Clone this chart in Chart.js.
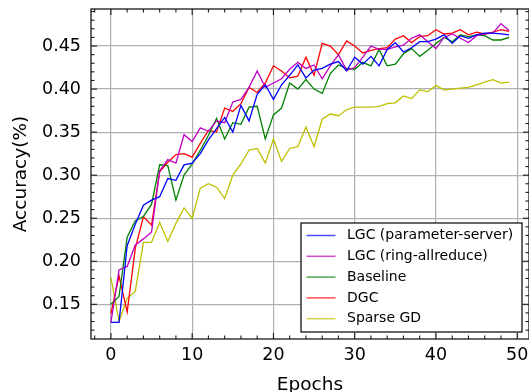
<!DOCTYPE html>
<html>
<head>
<meta charset="utf-8">
<script src="https://cdn.jsdelivr.net/npm/chart.js@4.4.1/dist/chart.umd.min.js"></script>
<style>
  html, body { margin: 0; padding: 0; background: #ffffff; }
  #c { display: block; }
</style>
</head>
<body>
<canvas id="c" width="529" height="392"></canvas>
<script>
// Test accuracy per training epoch for each gradient-compression scheme.
const epochs = [0, 1, 2, 3, 4, 5, 6, 7, 8, 9, 10, 11, 12, 13, 14, 15, 16, 17, 18, 19,
  20, 21, 22, 23, 24, 25, 26, 27, 28, 29, 30, 31, 32, 33, 34, 35, 36, 37, 38, 39,
  40, 41, 42, 43, 44, 45, 46, 47, 48, 49];

const lgcParameterServer = [0.129, 0.129, 0.218, 0.243, 0.265, 0.271, 0.275, 0.296, 0.294, 0.312,
  0.314, 0.325, 0.341, 0.354, 0.367, 0.350, 0.381, 0.363, 0.394, 0.405,
  0.388, 0.405, 0.416, 0.428, 0.413, 0.422, 0.424, 0.429, 0.432, 0.421,
  0.437, 0.429, 0.438, 0.427, 0.446, 0.454, 0.443, 0.448, 0.455, 0.455,
  0.458, 0.463, 0.453, 0.462, 0.459, 0.463, 0.465, 0.465, 0.464, 0.463];

const lgcRingAllreduce = [0.129, 0.190, 0.194, 0.219, 0.226, 0.234, 0.305, 0.318, 0.314, 0.347,
  0.339, 0.355, 0.351, 0.363, 0.361, 0.385, 0.388, 0.402, 0.421, 0.402,
  0.407, 0.412, 0.423, 0.431, 0.424, 0.428, 0.412, 0.427, 0.440, 0.422,
  0.425, 0.437, 0.450, 0.446, 0.446, 0.449, 0.451, 0.459, 0.463, 0.455,
  0.447, 0.460, 0.464, 0.459, 0.454, 0.462, 0.464, 0.465, 0.476, 0.468];

const baseline = [0.150, 0.159, 0.228, 0.247, 0.252, 0.266, 0.312, 0.311, 0.271, 0.300,
  0.313, 0.329, 0.346, 0.366, 0.342, 0.361, 0.359, 0.379, 0.380, 0.342,
  0.370, 0.378, 0.407, 0.400, 0.411, 0.400, 0.395, 0.418, 0.428, 0.424,
  0.423, 0.431, 0.427, 0.446, 0.427, 0.429, 0.441, 0.447, 0.438, 0.445,
  0.453, 0.460, 0.455, 0.463, 0.461, 0.463, 0.462, 0.457, 0.457, 0.460];

const dgc = [0.139, 0.183, 0.141, 0.215, 0.252, 0.242, 0.304, 0.315, 0.324, 0.325,
  0.321, 0.337, 0.352, 0.350, 0.378, 0.374, 0.383, 0.402, 0.396, 0.407,
  0.427, 0.421, 0.413, 0.415, 0.437, 0.416, 0.453, 0.450, 0.440, 0.456,
  0.450, 0.442, 0.445, 0.447, 0.448, 0.458, 0.462, 0.454, 0.461, 0.462,
  0.469, 0.464, 0.465, 0.469, 0.463, 0.466, 0.464, 0.466, 0.469, 0.467];

const sparseGD = [0.181, 0.130, 0.157, 0.165, 0.222, 0.222, 0.245, 0.223, 0.244, 0.262,
  0.250, 0.285, 0.290, 0.286, 0.273, 0.300, 0.313, 0.329, 0.331, 0.314,
  0.342, 0.316, 0.331, 0.333, 0.356, 0.333, 0.365, 0.371, 0.369, 0.376,
  0.379, 0.379, 0.379, 0.380, 0.383, 0.384, 0.392, 0.389, 0.399, 0.397,
  0.404, 0.399, 0.400, 0.401, 0.402, 0.405, 0.408, 0.411, 0.407, 0.408];

const seriesNames = ['LGC (parameter-server)', 'LGC (ring-allreduce)', 'Baseline', 'DGC', 'Sparse GD'];
const seriesValues = [lgcParameterServer, lgcRingAllreduce, baseline, dgc, sparseGD];
const seriesColors = ['#0000ff', '#bf00bf', '#008000', '#ff0000', '#bfbf00'];

const xTickValues = [0, 10, 20, 30, 40, 50];
const yTickValues = [0.15, 0.20, 0.25, 0.30, 0.35, 0.40, 0.45];

const FONT = 'DejaVu Sans';

// Frame, inward major/minor ticks on all four sides, and the boxed legend.
const frameAndLegend = {
  id: 'frameAndLegend',
  afterDatasetsDraw(chart) {
    const { ctx, chartArea: a, scales: { x, y } } = chart;
    ctx.save();
    ctx.strokeStyle = '#1a1a1a';
    ctx.lineWidth = 1.1;
    const seg = (x1, y1, x2, y2) => { ctx.beginPath(); ctx.moveTo(x1, y1); ctx.lineTo(x2, y2); ctx.stroke(); };

    // x ticks: major every 10, minor every 2
    for (let v = -2; v <= 52; v += 2) {
      const px = x.getPixelForValue(v);
      if (px < a.left + 0.5 || px > a.right - 0.5) continue;
      const len = (v % 10 === 0) ? 6 : 3.5;
      seg(px, a.bottom, px, a.bottom - len);
      seg(px, a.top, px, a.top + len);
    }
    // y ticks: major every 0.05, minor every 0.01
    for (let k = 10; k <= 50; k++) {
      const v = k / 100;
      const py = y.getPixelForValue(v);
      if (py < a.top + 0.5 || py > a.bottom - 0.5) continue;
      const len = (k % 5 === 0) ? 6 : 3.5;
      seg(a.left, py, a.left + len, py);
      seg(a.right, py, a.right - len, py);
    }
    ctx.lineWidth = 1.3;
    ctx.strokeRect(a.left, a.top, a.right - a.left, a.bottom - a.top);

    // legend box in the lower right corner
    const boxW = 221, boxH = 109;
    const bx = a.right - 7 - boxW;
    const by = a.bottom - 7 - boxH;
    ctx.fillStyle = '#ffffff';
    ctx.fillRect(bx, by, boxW, boxH);
    ctx.strokeStyle = '#000000';
    ctx.lineWidth = 1.2;
    ctx.strokeRect(bx, by, boxW, boxH);
    ctx.font = '14px "' + FONT + '"';
    ctx.textBaseline = 'middle';
    ctx.textAlign = 'left';
    chart.data.datasets.forEach((ds, i) => {
      const rowY = by + 12.5 + i * 20.8;
      ctx.strokeStyle = ds.borderColor;
      ctx.globalAlpha = 0.7;
      ctx.lineWidth = 1.5;
      seg(bx + 5.5, rowY, bx + 34.5, rowY);
      ctx.globalAlpha = 1;
      ctx.fillStyle = '#000000';
      ctx.fillText(ds.label, bx + 46, rowY);
    });
    ctx.restore();
  }
};

const datasets = seriesNames.map((name, i) => ({
  label: name,
  data: epochs.map((e, j) => ({ x: e, y: seriesValues[i][j] })),
  borderColor: seriesColors[i],
  backgroundColor: seriesColors[i],
  borderWidth: 1.3,
  pointRadius: 0,
  tension: 0,
  fill: false
}));

const noEdgePadding = scale => {
  scale.paddingTop = 0;
  scale.paddingBottom = 0;
  scale.paddingLeft = 0;
  scale.paddingRight = 0;
};

new Chart(document.getElementById('c'), {
  type: 'line',
  data: { datasets },
  options: {
    responsive: false,
    animation: false,
    layout: { padding: { top: 9, right: 0, left: 0, bottom: 0 } },
    plugins: { legend: { display: false }, tooltip: { enabled: false } },
    scales: {
      x: {
        type: 'linear',
        min: -2.45,
        max: 51.45,
        afterFit(scale) { scale.height = 53; noEdgePadding(scale); },
        afterBuildTicks(scale) { scale.ticks = xTickValues.map(v => ({ value: v })); },
        border: { display: false },
        grid: { color: '#b0b0b0', lineWidth: 1.2, drawTicks: false },
        ticks: {
          padding: 6,
          maxRotation: 0,
          color: '#000000',
          font: { family: FONT, size: 17.5 },
          callback: v => String(v)
        },
        title: {
          display: true,
          text: 'Epochs',
          color: '#000000',
          font: { family: FONT, size: 18.5 },
          padding: { top: 0, bottom: -4 }
        }
      },
      y: {
        type: 'linear',
        min: 0.1097,
        max: 0.4930,
        afterFit(scale) { scale.width = 91; noEdgePadding(scale); },
        afterBuildTicks(scale) { scale.ticks = yTickValues.map(v => ({ value: v })); },
        border: { display: false },
        grid: { color: '#b0b0b0', lineWidth: 1.2, drawTicks: false },
        ticks: {
          padding: 10,
          color: '#000000',
          font: { family: FONT, size: 17.5 },
          callback: v => v.toFixed(2)
        },
        title: {
          display: true,
          text: 'Accuracy(%)',
          color: '#000000',
          font: { family: FONT, size: 18.5 },
          padding: { top: 10, bottom: 0 }
        }
      }
    }
  },
  plugins: [frameAndLegend]
});
</script>
</body>
</html>
